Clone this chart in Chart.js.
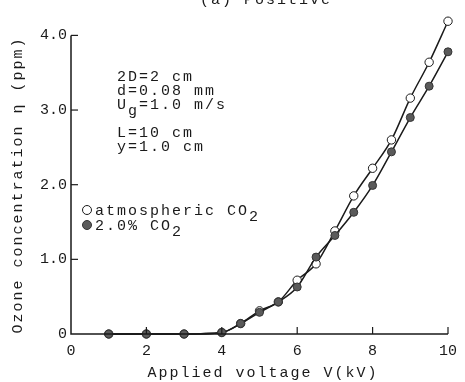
<!DOCTYPE html>
<html>
<head>
<meta charset="utf-8">
<script src="https://cdn.jsdelivr.net/npm/chart.js@4"></script>
<style>
html,body{margin:0;padding:0;background:#fff;}
#wrap{width:465px;height:382px;position:relative;}
</style>
</head>
<body>
<div id="wrap"><canvas id="c" width="465" height="382"></canvas></div>
<script>
const voltage = [1, 2, 3, 4, 4.5, 5, 5.5, 6, 6.5, 7, 7.5, 8, 8.5, 9, 9.5, 10];
const atmosphericCO2 = [0, 0, 0, 0.02, 0.14, 0.31, 0.43, 0.72, 0.94, 1.38, 1.85, 2.22, 2.60, 3.16, 3.64, 4.19];
const co2_2pct = [0, 0, 0, 0.02, 0.14, 0.29, 0.43, 0.63, 1.03, 1.32, 1.63, 1.99, 2.44, 2.90, 3.32, 3.78];
const xTickValues = [0, 2, 4, 6, 8, 10];
const yTickValues = [0, 1, 2, 3, 4];
const titleText = "(a) Positive";
const xTitle = "Applied voltage V(kV)";
const yTitle = "Ozone concentration \u03b7 (ppm)";
const conditions = [
  [["2D=2 cm", 0]],
  [["d=0.08 mm", 0]],
  [["U", 0], ["g", 6], ["=1.0 m/s", 0]],
  [["L=10 cm", 0]],
  [["y=1.0 cm", 0]]
];
const legendLabels = [
  [["atmospheric CO", 0], ["2", 6]],
  [["2.0% CO", 0], ["2", 6]]
];

const FONT = '"Liberation Mono", "DejaVu Sans Mono", monospace';
const INK = '#1a1a1a';

function pts(ys){ return voltage.map((v,i)=>({x:v, y:ys[i]})); }

function drawRich(ctx, parts, x, y){
  let cx = x;
  for (const [t, dy] of parts){
    ctx.fillText(t, cx, y + dy);
    cx += ctx.measureText(t).width;
  }
}

const decor = {
  id: 'decor',
  beforeDraw(chart){
    chart.ctx.letterSpacing = '0px';
  },
  afterDraw(chart){
    const ctx = chart.ctx;
    const xs = chart.scales.x, ys = chart.scales.y;
    ctx.save();
    ctx.strokeStyle = INK;
    ctx.lineWidth = 1.5;
    const x0 = xs.getPixelForValue(0), x10 = xs.getPixelForValue(10);
    const y0 = ys.getPixelForValue(0), y4 = ys.getPixelForValue(4);
    ctx.beginPath();
    ctx.moveTo(x0, y4); ctx.lineTo(x0, y0); ctx.lineTo(x10, y0);
    ctx.stroke();
    ctx.lineWidth = 1.2;
    for (const v of xTickValues){
      if (v === 0) continue;
      const px = xs.getPixelForValue(v);
      ctx.beginPath(); ctx.moveTo(px, y0); ctx.lineTo(px, y0 - 7); ctx.stroke();
    }
    for (const v of yTickValues){
      if (v === 0) continue;
      const py = ys.getPixelForValue(v);
      ctx.beginPath(); ctx.moveTo(x0, py); ctx.lineTo(x0 + 7, py); ctx.stroke();
    }

    ctx.fillStyle = INK;
    ctx.letterSpacing = '2px';
    ctx.font = '15px ' + FONT;
    ctx.textBaseline = 'alphabetic';
    // top title (cut off)
    ctx.textAlign = 'center';
    ctx.fillText(titleText, 266, 4);
    // x title
    ctx.fillText(xTitle, 263, 377);
    // y title
    ctx.save();
    ctx.translate(22, 185);
    ctx.rotate(-Math.PI/2);
    ctx.fillText(yTitle, 0, 0);
    ctx.restore();

    ctx.textAlign = 'left';
    const baselines = [81, 95, 109, 137, 151];
    conditions.forEach((parts, i) => drawRich(ctx, parts, 117, baselines[i]));

    // legend
    const lb = [215, 230];
    legendLabels.forEach((parts, i) => drawRich(ctx, parts, 95, lb[i]));
    ctx.lineWidth = 1;
    ctx.beginPath(); ctx.arc(87, 210, 4.5, 0, Math.PI*2);
    ctx.fillStyle = '#fff'; ctx.fill(); ctx.strokeStyle = INK; ctx.stroke();
    ctx.beginPath(); ctx.arc(87, 225, 4.5, 0, Math.PI*2);
    ctx.fillStyle = '#5a5a5a'; ctx.fill(); ctx.strokeStyle = '#333'; ctx.stroke();
    ctx.restore();
  }
};

new Chart(document.getElementById('c'), {
  type: 'line',
  data: {
    datasets: [
      {
        label: 'atmospheric CO2',
        data: pts(atmosphericCO2),
        order: 2,
        borderColor: INK,
        borderWidth: 1.5,
        pointRadius: 4.2,
        pointBackgroundColor: '#fff',
        pointBorderColor: INK,
        pointBorderWidth: 1,
        cubicInterpolationMode: 'monotone',
        clip: false
      },
      {
        label: '2.0% CO2',
        data: pts(co2_2pct),
        order: 1,
        borderColor: INK,
        borderWidth: 1.5,
        pointRadius: 4,
        pointBackgroundColor: '#5a5a5a',
        pointBorderColor: '#333',
        pointBorderWidth: 1,
        cubicInterpolationMode: 'monotone',
        clip: false
      }
    ]
  },
  options: {
    responsive: false,
    animation: false,
    devicePixelRatio: 1,
    layout: { padding: { top: 2, right: 12, left: 0, bottom: 0 } },
    plugins: { legend: { display: false }, tooltip: { enabled: false }, title: { display: false } },
    scales: {
      x: {
        type: 'linear', min: 0, max: 10,
        afterFit(s){ s.height = 48; },
        afterBuildTicks(s){ s.ticks = xTickValues.map(v => ({value: v})); },
        grid: { display: false, drawTicks: false },
        border: { display: false },
        ticks: { color: INK, padding: 8, maxRotation: 0, font: { family: FONT, size: 15 }, callback: v => String(v) }
      },
      y: {
        type: 'linear', min: 0, max: 4.3,
        afterFit(s){ s.width = 71; },
        afterBuildTicks(s){ s.ticks = yTickValues.map(v => ({value: v})); },
        grid: { display: false, drawTicks: false },
        border: { display: false },
        ticks: { color: INK, padding: 4, font: { family: FONT, size: 15 }, callback: v => v === 0 ? '0' : v.toFixed(1) }
      }
    }
  },
  plugins: [decor]
});
</script>
</body>
</html>
